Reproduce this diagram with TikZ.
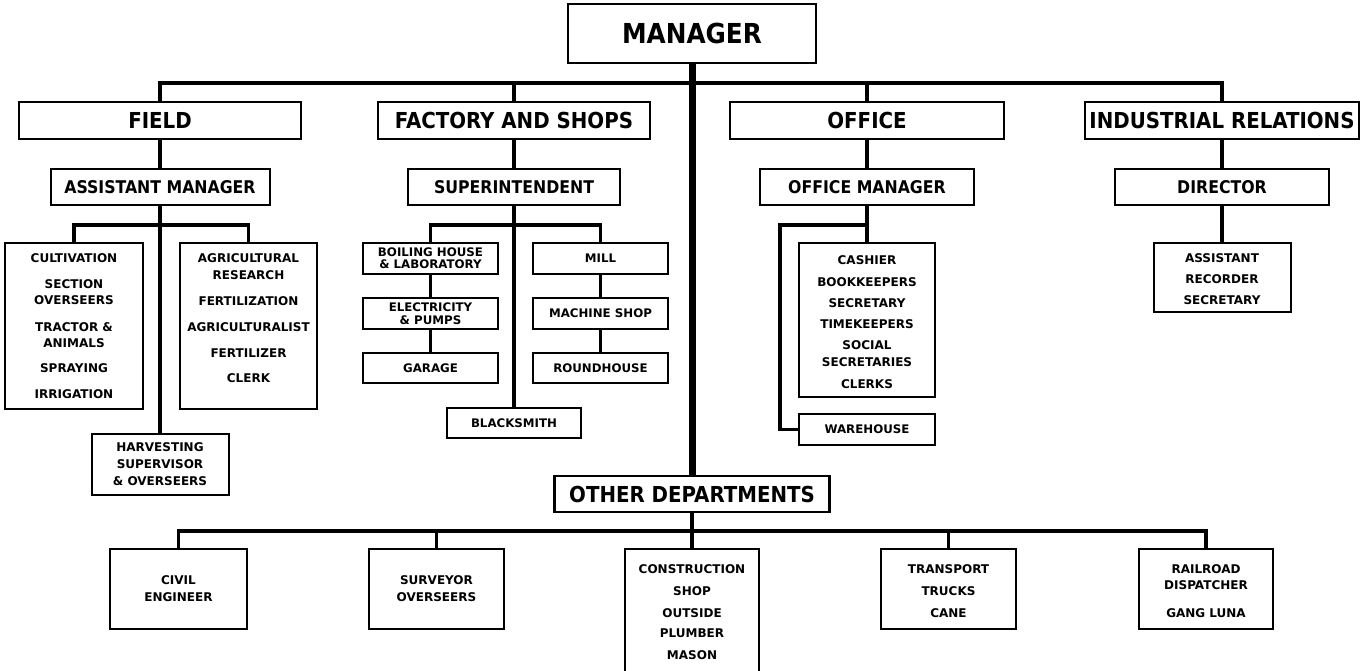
\documentclass[tikz,border=0pt]{standalone}
\usepackage{fontspec}
\newfontfamily\condbold{DejaVu Sans Condensed Bold}
\newfontfamily\plainbold{DejaVu Sans Bold}
\begin{document}
\begin{tikzpicture}[x=1pt,y=-1pt,
  box/.style={draw, line width=2pt, inner sep=0pt, align=center},
  bigbox/.style={draw, line width=2.4pt, inner sep=0pt, align=center},
  head/.style={font=\condbold\fontsize{22}{24}\selectfont},
  subhead/.style={font=\condbold\fontsize{17.5}{19}\selectfont},
  small/.style={font=\plainbold\fontsize{12}{16}\selectfont, align=center, inner sep=0pt},
  tight/.style={font=\plainbold\fontsize{11.8}{12}\selectfont},
  trunk/.style={line width=7pt},
  bus/.style={line width=4.5pt, line join=miter},
  link/.style={line width=3.5pt, line join=miter},
  lowbus/.style={line width=3.3pt, line join=miter},
]
\fill[white] (0,0) rectangle (1364,670);
\useasboundingbox (0,0) rectangle (1364,670);
\clip (0,0) rectangle (1364,670);

% ---- top level
\node[bigbox, minimum width=248pt, minimum height=59pt,
      font=\condbold\fontsize{27.5}{30}\selectfont] (mgr) at (692,33.5) {MANAGER};

% ---- divisions
\node[bigbox, head, minimum width=282pt, minimum height=37pt] (field)  at (160,120.5) {FIELD};
\node[bigbox, head, minimum width=272pt, minimum height=37pt] (fact)   at (514,120.5) {FACTORY AND SHOPS};
\node[bigbox, head, minimum width=274pt, minimum height=37pt] (office) at (867,120.5) {OFFICE};
\node[bigbox, head, minimum width=274pt, minimum height=37pt] (indrel) at (1222,120.5) {INDUSTRIAL RELATIONS};

% ---- heads of divisions
\node[box, subhead, minimum width=219pt, minimum height=36pt] (asst)   at (160,187)  {ASSISTANT MANAGER};
\node[box, subhead, minimum width=212pt, minimum height=36pt] (supt)   at (514,187)  {SUPERINTENDENT};
\node[box, subhead, minimum width=214pt, minimum height=36pt] (offmgr) at (867,187)  {OFFICE MANAGER};
\node[box, subhead, minimum width=214pt, minimum height=36pt] (dir)    at (1222,187) {DIRECTOR};

% ---- field sections
\node[box, minimum width=138pt, minimum height=166pt] (cult) at (74,326) {};
\node[small, anchor=north] (cultT) at (74,253)
  {CULTIVATION\\[10pt] SECTION\\ OVERSEERS\\[11pt] TRACTOR \&\\ ANIMALS\\[9pt] SPRAYING\\[10pt] IRRIGATION};
\node[box, minimum width=137pt, minimum height=166pt] (agri) at (248.5,326) {};
\node[small, anchor=north] (agriT) at (248.5,253)
  {AGRICULTURAL\\[1pt] RESEARCH\\[10pt] FERTILIZATION\\[10pt] AGRICULTURALIST\\[10pt] FERTILIZER\\[9pt] CLERK};
\node[box, small, minimum width=137pt, minimum height=61pt] (harv) at (160,464.5)
  {HARVESTING\\[1pt] SUPERVISOR\\[1pt] \& OVERSEERS};

% ---- factory sections
\node[box, tight, minimum width=135pt, minimum height=31pt] (boil)   at (430.5,258.5) {BOILING HOUSE\\ \& LABORATORY};
\node[box, tight, minimum width=135pt, minimum height=31pt] (mill)   at (600.5,258.5) {MILL};
\node[box, tight, minimum width=135pt, minimum height=31pt] (elec)   at (430.5,313.5) {ELECTRICITY\\[1pt] \& PUMPS};
\node[box, tight, minimum width=135pt, minimum height=31pt] (mach)   at (600.5,313.5) {MACHINE SHOP};
\node[box, tight, minimum width=135pt, minimum height=30pt] (garage) at (430.5,368)   {GARAGE};
\node[box, tight, minimum width=135pt, minimum height=30pt] (round)  at (600.5,368)   {ROUNDHOUSE};
\node[box, tight, minimum width=134pt, minimum height=30pt] (smith)  at (514,423)     {BLACKSMITH};

% ---- office sections
\node[box, minimum width=136pt, minimum height=154pt] (cash) at (867,320) {};
\node[small, anchor=north] (cashT) at (867,255)
  {CASHIER\\[6pt] BOOKKEEPERS\\[5pt] SECRETARY\\[5pt] TIMEKEEPERS\\[5pt] SOCIAL\\[1pt] SECRETARIES\\[6pt] CLERKS};
\node[box, tight, minimum width=136pt, minimum height=31pt] (ware) at (867,429.5) {WAREHOUSE};
\coordinate (ocorner) at (780,225);

% ---- industrial relations staff
\node[box, minimum width=137pt, minimum height=69pt] (asr) at (1222,277.5) {};
\node[small, anchor=north] (asrT) at (1222,253) {ASSISTANT\\[5pt] RECORDER\\[5pt] SECRETARY};

% ---- other departments
\node[bigbox, head, minimum width=275pt, minimum height=36pt] (other) at (692,494) {OTHER DEPARTMENTS};
\node[box, small, minimum width=137pt, minimum height=80pt] (civil) at (178.5,589) {CIVIL\\[1pt] ENGINEER};
\node[box, small, minimum width=135pt, minimum height=80pt] (surv)  at (436.5,589) {SURVEYOR\\[1pt] OVERSEERS};
\node[box, minimum width=134pt, minimum height=141pt] (cons) at (692,619.5) {};
\node[small, anchor=north] (consT) at (692,564)
  {CONSTRUCTION\\[6pt] SHOP\\[6pt] OUTSIDE\\[4pt] PLUMBER\\[6pt] MASON};
\node[box, minimum width=135pt, minimum height=80pt] (trans) at (948.5,589) {};
\node[small, anchor=north] (transT) at (948.5,564) {TRANSPORT\\[6pt] TRUCKS\\[6pt] CANE};
\node[box, minimum width=134pt, minimum height=80pt] (rail) at (1206,589) {};
\node[small, anchor=north] (railT) at (1206,564) {RAILROAD\\ DISPATCHER\\[12pt] GANG LUNA};

% ---- connectors
\coordinate (topbus) at (0,83);
\coordinate (midbus) at (0,225);
\coordinate (lowbus) at (0,531);

\draw[trunk] (mgr.south) -- (other.north);
\draw[bus] (field.north) -- (field.north |- topbus) -- (indrel.north |- topbus) -- (indrel.north);
\draw[bus] (fact.north) -- (fact.north |- topbus);
\draw[bus] (office.north) -- (office.north |- topbus);

\draw[link] (field) -- (asst);
\draw[link] (fact) -- (supt);
\draw[link] (office) -- (offmgr);
\draw[link] (indrel) -- (dir);

\draw[link] (cult.north) -- (cult.north |- midbus) -- (agri.north |- midbus) -- (agri.north);
\draw[link] (asst.south) -- (harv.north);

\draw[link] (boil.north) -- (boil.north |- midbus) -- (mill.north |- midbus) -- (mill.north);
\draw[link] (supt.south) -- (smith.north);
\draw[link] (boil) -- (elec);
\draw[link] (elec) -- (garage);
\draw[link] (mill) -- (mach);
\draw[link] (mach) -- (round);

\draw[link] (offmgr.south) -- (cash.north);
\draw[link] (offmgr.south |- midbus) -- (ocorner) |- (ware.west);

\draw[link] (dir) -- (asr);

\draw[line width=4pt] (other.south) -- (cons.north);
\draw[lowbus] (civil.north) -- (civil.north |- lowbus) -- (rail.north |- lowbus) -- (rail.north);
\draw[lowbus] (surv.north) -- (surv.north |- lowbus);
\draw[lowbus] (trans.north) -- (trans.north |- lowbus);
\end{tikzpicture}
\end{document}
